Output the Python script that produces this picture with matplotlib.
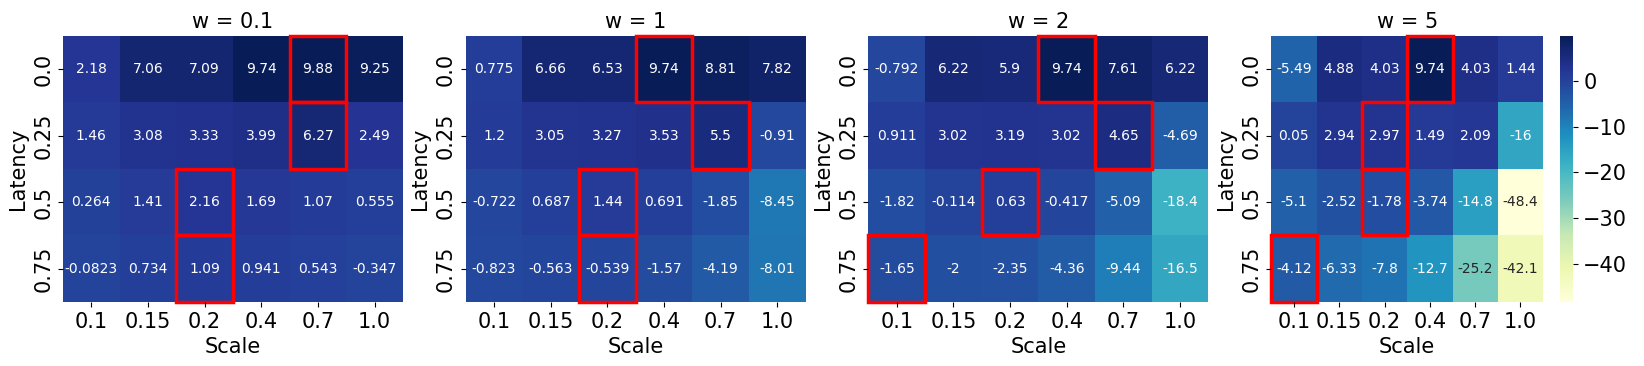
import numpy as np
import matplotlib
matplotlib.use("Agg")
import matplotlib.pyplot as plt
import seaborn as sns
from matplotlib.patches import Rectangle

# axis categories
scales = ["0.1", "0.15", "0.2", "0.4", "0.7", "1.0"]
latencies = ["0.0", "0.25", "0.5", "0.75"]
w_labels = ["0.1", "1", "2", "5"]

# values (rows = latency, cols = scale)
w01 = [[2.18, 7.06, 7.09, 9.74, 9.88, 9.25],
       [1.46, 3.08, 3.33, 3.99, 6.27, 2.49],
       [0.264, 1.41, 2.16, 1.69, 1.07, 0.555],
       [-0.0823, 0.734, 1.09, 0.941, 0.543, -0.347]]
w1 = [[0.775, 6.66, 6.53, 9.74, 8.81, 7.82],
      [1.2, 3.05, 3.27, 3.53, 5.5, -0.91],
      [-0.722, 0.687, 1.44, 0.691, -1.85, -8.45],
      [-0.823, -0.563, -0.539, -1.57, -4.19, -8.01]]
w2 = [[-0.792, 6.22, 5.9, 9.74, 7.61, 6.22],
      [0.911, 3.02, 3.19, 3.02, 4.65, -4.69],
      [-1.82, -0.114, 0.63, -0.417, -5.09, -18.4],
      [-1.65, -2, -2.35, -4.36, -9.44, -16.5]]
w5 = [[-5.49, 4.88, 4.03, 9.74, 4.03, 1.44],
      [0.05, 2.94, 2.97, 1.49, 2.09, -16],
      [-5.1, -2.52, -1.78, -3.74, -14.8, -48.4],
      [-4.12, -6.33, -7.8, -12.7, -25.2, -42.1]]

tables = [np.array(t) for t in (w01, w1, w2, w5)]
vmin = min(t.min() for t in tables)
vmax = max(t.max() for t in tables)

fig, axes = plt.subplots(1, 4, figsize=(16.44, 3.66), dpi=100)
fig.subplots_adjust(left=0.0383, right=0.980, top=0.902, bottom=0.175, wspace=0.185)

for k, (ax, data) in enumerate(zip(axes, tables)):
    last = k == len(tables) - 1
    sns.heatmap(data, ax=ax, cmap="YlGnBu", vmin=vmin, vmax=vmax,
                annot=True, fmt=".3g", annot_kws={"size": 10},
                cbar=last, xticklabels=scales, yticklabels=latencies)
    # outline the best scale in each latency row
    for i, row in enumerate(data):
        j = int(np.argmax(row))
        ax.add_patch(Rectangle((j, i), 1, 1, fill=False, edgecolor="red", lw=2.5, clip_on=False))
    ax.set_title(f"w = {w_labels[k]}", fontsize=15)
    ax.set_xlabel("Scale", fontsize=15)
    ax.set_ylabel("Latency", fontsize=15)
    ax.tick_params(axis="both", labelsize=15)
    plt.setp(ax.get_yticklabels(), rotation=90, va="center")
    plt.setp(ax.get_xticklabels(), rotation=0)
    if last:
        ax.collections[0].colorbar.ax.tick_params(labelsize=15)

fig.savefig("out.png", dpi=100)
